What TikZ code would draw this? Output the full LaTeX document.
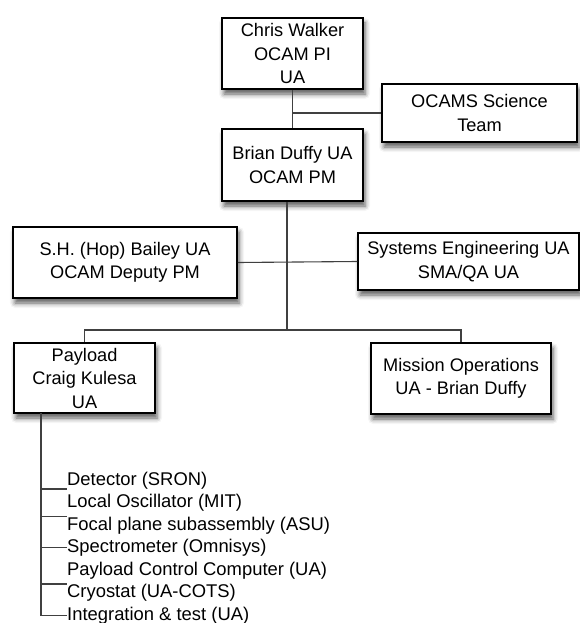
\documentclass[tikz,border=0pt]{standalone}
\usepackage{fontspec}
\setmainfont{Liberation Sans}
\usetikzlibrary{shadows.blur}
\tikzset{
    orgbox/.style={draw, line width=1.5pt, fill=white, align=center, inner sep=0pt,
        font=\fontsize{18.2}{23.5}\selectfont,
        blur shadow={shadow xshift=2pt, shadow yshift=-5pt, shadow blur radius=5pt, shadow opacity=65}},
    link/.style={line width=1.1pt, black!75},
    item/.style={anchor=base west, inner sep=0pt, font=\fontsize{18.4}{22}\selectfont}
}

\begin{document}
\begin{tikzpicture}[x=1pt, y=-1pt]
  \useasboundingbox (0,0) rectangle (580,623);
  \node[orgbox, minimum width=141pt, minimum height=71pt] (cw) at (292.5,53.5) {Chris Walker\\OCAM PI\\UA};
  \node[orgbox, minimum width=195pt, minimum height=58pt] (ost) at (479.5,113) {OCAMS Science\\Team};
  \node[orgbox, minimum width=141pt, minimum height=72pt] (bd) at (292.5,165) {Brian Duffy UA\\OCAM PM};
  \node[orgbox, minimum width=224pt, minimum height=71pt] (hb) at (125,262.5) {S.H. (Hop) Bailey UA\\OCAM Deputy PM};
  \node[orgbox, minimum width=221pt, minimum height=57pt] (se) at (468.5,261.5) {Systems Engineering UA\\SMA/QA UA};
  \node[orgbox, minimum width=141pt, minimum height=70pt] (pl) at (84.5,378) {Payload\\Craig Kulesa\\UA};
  \node[orgbox, minimum width=180pt, minimum height=71pt] (mo) at (461,378.5) {Mission Operations\\UA - Brian Duffy};

  \node[item] (det) at (67,485) {Detector (SRON)};
  \node[item] (lo) at (67,507.5) {Local Oscillator (MIT)};
  \node[item] (fpa) at (67,530) {Focal plane subassembly (ASU)};
  \node[item] (spe) at (67,552.5) {Spectrometer (Omnisys)};
  \node[item] (pcc) at (67,575) {Payload Control Computer (UA)};
  \node[item] (cry) at (67,597.5) {Cryostat (UA-COTS)};
  \node[item] (itg) at (67,620) {Integration \& test (UA)};

  \coordinate (trunk) at (287,330);
  \coordinate (spine) at (41,413);

  \draw[link] (cw.south) -- (bd.north);
  \draw[link] (cw.south |- ost.west) -- (ost.west);
  \draw[link] (bd.south -| trunk) -- (trunk);
  \draw[link] (hb.east) -- (se.west);
  \draw[link] (pl.north) |- (trunk) -| (mo.north);
  \draw[link] (spine) |- (itg.west);
  \draw[link] (spine |- det.south west) -- (det.south west);
  \draw[link] (spine |- fpa.north west) -- (fpa.north west);
  \draw[link] (spine |- spe.west) -- (spe.west);
  \draw[link] (spine |- cry.north west) -- (cry.north west);
\end{tikzpicture}
\end{document}
